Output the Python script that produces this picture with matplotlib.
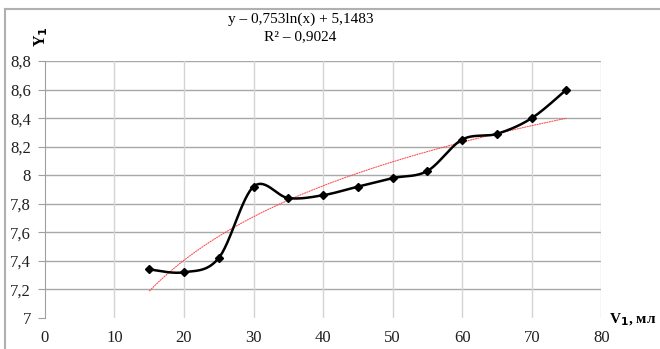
import numpy as np
import matplotlib.pyplot as plt
from matplotlib.lines import Line2D

# volume, ml
v1 = [15, 20, 25, 30, 35, 40, 45, 50, 55, 60, 65, 70, 75]
# measured Y1
y1 = [7.34, 7.32, 7.42, 7.92, 7.84, 7.86, 7.92, 7.98, 8.03, 8.25, 8.29, 8.40, 8.60]

# log trend coefficients
a_coef = 0.753
b_coef = 5.1483
r2 = 0.9024

x_ticks = [0, 10, 20, 30, 40, 50, 60, 70, 80]
y_ticks = [7, 7.2, 7.4, 7.6, 7.8, 8, 8.2, 8.4, 8.6, 8.8]
y_tick_labels = ["7", "7,2", "7,4", "7,6", "7,8", "8", "8,2", "8,4", "8,6", "8,8"]


def smooth(xs, ys, n=30):
    # bezier smoothing through the points, like a spreadsheet "smoothed line"
    px = np.array(xs, float)
    py = np.array(ys, float)
    ox, oy = [], []
    t = np.linspace(0, 1, n)
    for i in range(len(px) - 1):
        i0 = max(i - 1, 0)
        i3 = min(i + 2, len(px) - 1)
        c1x = px[i] + (px[i + 1] - px[i0]) / 6
        c1y = py[i] + (py[i + 1] - py[i0]) / 6
        c2x = px[i + 1] - (px[i3] - px[i]) / 6
        c2y = py[i + 1] - (py[i3] - py[i]) / 6
        bx = (1 - t) ** 3 * px[i] + 3 * (1 - t) ** 2 * t * c1x + 3 * (1 - t) * t ** 2 * c2x + t ** 3 * px[i + 1]
        by = (1 - t) ** 3 * py[i] + 3 * (1 - t) ** 2 * t * c1y + 3 * (1 - t) * t ** 2 * c2y + t ** 3 * py[i + 1]
        ox.extend(bx)
        oy.extend(by)
    return np.array(ox), np.array(oy)


plt.rcParams["font.family"] = ["Liberation Serif", "DejaVu Serif"]

fig = plt.figure(figsize=(6.6, 3.49), dpi=100)
ax = fig.add_axes([0.068, 0.089, 0.843, 0.736])

# outer chart frame (top and left edges visible)
fig.add_artist(Line2D([0.008, 0.008], [0, 0.974], transform=fig.transFigure, color="#b0b0b0", lw=1.5))
fig.add_artist(Line2D([0.008, 1], [0.974, 0.974], transform=fig.transFigure, color="#b0b0b0", lw=1.5))

ax.set_xlim(0, 80)
ax.set_ylim(7, 8.8)
ax.set_xticks(x_ticks)
ax.set_yticks(y_ticks)
ax.set_yticklabels(y_tick_labels)
ax.tick_params(axis="both", labelsize=12, length=0, pad=9, labelcolor="#202020")
ax.tick_params(axis="y", length=5, color="#a0a0a0", pad=5)

for s in ["top", "bottom", "right"]:
    ax.spines[s].set_visible(False)
ax.spines["left"].set_color("#a0a0a0")

for yv in y_ticks[1:]:
    ax.axhline(yv, color="#a8a8a8", lw=1, zorder=0)
for xv in x_ticks[1:]:
    ax.axvline(xv, color="#d4d4d4", lw=1, zorder=0)

# trend line
xt = np.linspace(v1[0], v1[-1], 200)
ax.plot(xt, a_coef * np.log(xt) + b_coef, color="#ff4040", lw=0.7, ls=(0, (2, 0.6)), zorder=2)

sx, sy = smooth(v1, y1)
ax.plot(sx, sy, color="black", lw=1.8, zorder=3)
ax.plot(v1, y1, ls="none", marker="D", ms=4.5, color="black", zorder=4)

fig.text(0.455, 0.945, "y – 0,753ln(x) + 5,1483", ha="center", va="center", fontsize=11)
fig.text(0.455, 0.895, "R² – 0,9024", ha="center", va="center", fontsize=11)

fig.text(0.062, 0.895, "Y$_\\mathbf{1}$", rotation=90, ha="center", va="center", fontsize=11.5, fontweight="bold")
fig.text(0.922, 0.083, "V$_\\mathbf{1}$, мл", ha="left", va="center", fontsize=11, fontweight="bold")

fig.savefig("out.png", dpi=100)
